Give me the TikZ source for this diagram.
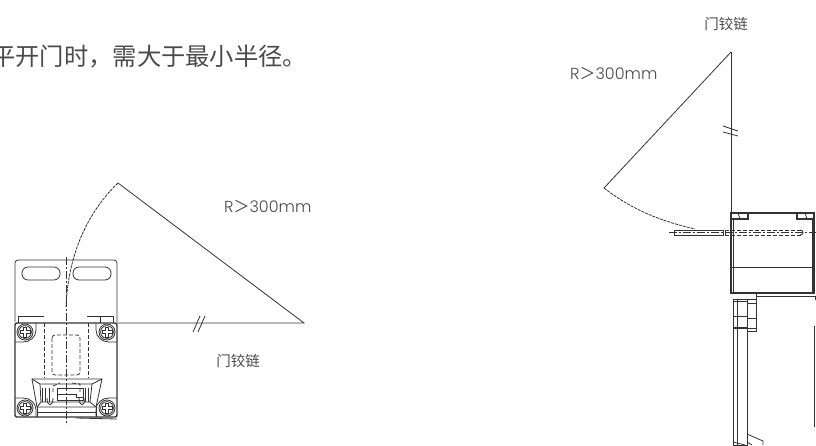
\documentclass[tikz,border=0pt]{standalone}
\usepackage{fontspec}
\setmainfont{Poppins Light}
\newfontfamily\cjk{Noto Sans CJK SC}
\usetikzlibrary{positioning}
\definecolor{inktext}{HTML}{4A4A4A}
\definecolor{inkline}{HTML}{333333}
\newcommand{\widegt}{{\cjk\char"FF1E}}
\tikzstyle{part}=[draw=inkline,line width=0.8pt]
\tikzstyle{heavy}=[draw=inkline,line width=1.4pt]
\tikzstyle{hidden}=[draw=inkline,line width=0.8pt,dash pattern=on 4pt off 2pt]
\tikzstyle{axis}=[draw=inkline,line width=0.5pt,dash pattern=on 8pt off 2pt on 2pt off 2pt]
\tikzstyle{sweep}=[draw=inkline,line width=0.8pt,dash pattern=on 3pt off 1pt]
\tikzstyle{label}=[text=inktext,inner sep=0,font=\fontsize{16}{18}\selectfont]
\tikzset{cornerscrew/.pic={
  \draw[part] (0,0) circle (8);
  \draw[part] (0,0) circle (6.4);
  \draw[part] (-5,-1.4) -- (-1.4,-1.4) -- (-1.4,-5) -- (1.4,-5) -- (1.4,-1.4) -- (5,-1.4) -- (5,1.4) -- (1.4,1.4) -- (1.4,5) -- (-1.4,5) -- (-1.4,1.4) -- (-5,1.4) -- cycle;
  \draw[part] (-10,10) -- (-2,10) .. controls (5,10) and (11,5) .. (11,-2) -- (11,-9);
}}
\begin{document}
\begin{tikzpicture}[x=1pt,y=-1pt]
\useasboundingbox (0,0) rectangle (816,445);
\node[anchor=west,text=inktext,inner sep=0,font=\cjk\fontsize{24.3}{28}\selectfont] (title) at (-9,57) {平开门时\char"FF0C 需大于最小半径。};
\node[label,anchor=west] (radiusleft) at (224,206) {R\widegt 300mm};
\node[label,font=\cjk\fontsize{14.5}{16}\selectfont] (hingeleft) at (238,361) {门铰链};
\node[label,anchor=west] (radiusright) at (570,73) {R\widegt 300mm};
\node[label,font=\cjk\fontsize{14.5}{16}\selectfont] (hingeright) at (726,24) {门铰链};
\coordinate (pivotleft) at (304,323);
\coordinate (tipleft) at (118,183);
\coordinate (pivotright) at (731,52);
\coordinate (tipright) at (604,188);
\draw[part] (117,323) -- (pivotleft) -- (tipleft);
\draw[sweep] (tipleft) .. controls (87,213) and (68,255) .. (66,307);
\draw[part] (193,332) -- (200,316) (198,332) -- (205,316);
\draw[part,rounded corners=3pt] (15,322) -- (15,260) -- (117,260) -- (117,322);
\draw[part,rounded corners=6pt] (22,267) rectangle (60,280);
\draw[part,rounded corners=6pt] (73,267) rectangle (111,280);
\draw[part] (18,323) -- (18,316) -- (44,316) (87,316) -- (113,316) -- (113,323) (100,316) -- (100,323);
\draw[heavy,rounded corners=2pt] (15,323) rectangle (117,417);
\draw[axis] (66,257) -- (66,425);
\draw[hidden] (44,323) -- (44,378) (88,323) -- (88,378);
\draw[hidden,rounded corners=3pt] (52,335) rectangle (80,375);
\draw[part] (32,379) -- (102,379) -- (96,407) -- (37,407) -- cycle;
\draw[part] (32,379) -- (40,384) -- (92,384) -- (102,379);
\draw[part] (37,407) -- (41,402) -- (40,384) (96,407) -- (90,402) -- (92,384) (41,402) -- (90,402);
\draw[part] (37,412) -- (96,412) (37,407) -- (37,417) (96,407) -- (96,417);
\draw[part] (57,388) -- (83,388) -- (83,400) -- (57,400) -- cycle (57,394) -- (76,394) -- (76,397) -- (83,397);
\draw[hidden] (53,392) -- (53,386) -- (60,383) (72,383) -- (80,384) -- (80,392);
\draw[part] (42,388) -- (42,402) (45,388) -- (45,402) (49,388) -- (49,402);
\draw[part] (85,388) -- (85,402) (88,388) -- (88,402);
\draw[part] (47,398) .. controls (47,407) and (53,407) .. (53,398) (79,398) .. controls (79,407) and (85,407) .. (85,398);
\draw[part] (76,418) -- (117,419);
\pic at (25,332) {cornerscrew};
\pic[xscale=-1] at (107,332) {cornerscrew};
\pic[yscale=-1] at (25,408) {cornerscrew};
\pic[xscale=-1,yscale=-1] at (107,408) {cornerscrew};
\draw[part] (pivotright) -- (tipright);
\draw[part] (pivotright) -- (731,213);
\draw[part] (723,126) -- (738,131) (723,132) -- (738,136);
\draw[sweep] (tipright) .. controls (635,212) and (665,222) .. (695,229);
\draw[heavy] (731,213) rectangle (814,293);
\draw[part] (733,219) -- (733,293) (812,219) -- (812,293) (731,267) -- (814,267);
\draw[heavy] (731,213) rectangle (748,219) (797,213) rectangle (814,219);
\draw[part] (738,213) -- (740,219) (805,213) -- (807,219);
\draw[axis] (669,232) -- (816,232);
\draw[part] (674,230) rectangle (723,235) (725,230) -- (725,235);
\draw[hidden] (725,230) -- (803,230) (725,235) -- (803,235);
\draw[part] (800,230) .. controls (804,230) and (804,235) .. (800,235);
\draw[part] (756,296) -- (816,296) (756,293) -- (756,331) -- (748,331);
\draw[part] (815,296) -- (815,300);
\draw[part] (814,326) -- (814,427);
\draw[part] (733,299) rectangle (747,445);
\draw[part] (737,299) -- (737,445) (733,301) -- (747,301) (733,316) -- (747,316);
\draw[part] (747,299) -- (756,299) (747,303) -- (756,303) (747,318) -- (756,318) (747,328) -- (756,328);
\draw[heavy] (733,328) -- (747,328);
\draw[part] (747,434) -- (763,441) -- (763,445) (733,442) -- (745,445) (747,442) -- (752,445);
\end{tikzpicture}
\end{document}
